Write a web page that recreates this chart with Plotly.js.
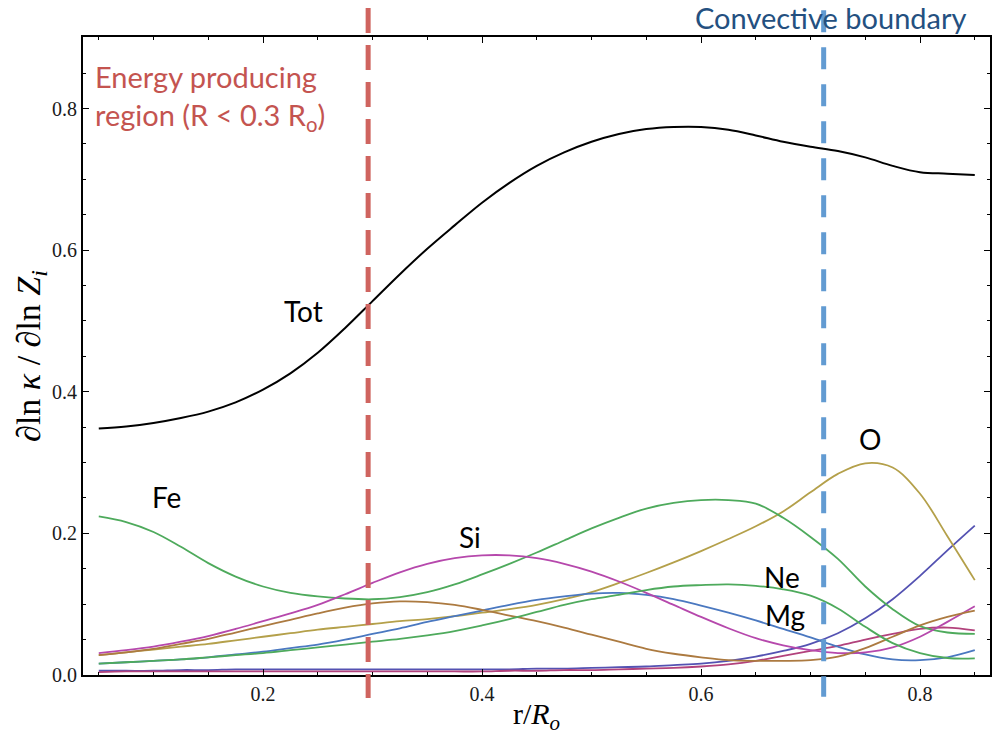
<!DOCTYPE html>
<html>
<head>
<meta charset="utf-8">
<script src="https://cdn.plot.ly/plotly-3.0.1.min.js"></script>
<style>
  html, body { margin: 0; padding: 0; background: #ffffff; }
  #chart { width: 992px; height: 735px; }
</style>
</head>
<body>
<div id="chart"></div>
<script>
// Radial grid, r / R_o
const radius = [0.05, 0.075, 0.10, 0.125, 0.15, 0.175, 0.20, 0.225, 0.25, 0.275,
                0.30, 0.325, 0.35, 0.375, 0.40, 0.425, 0.45, 0.475, 0.50, 0.525,
                0.55, 0.575, 0.60, 0.625, 0.65, 0.675, 0.70, 0.725, 0.75, 0.775,
                0.80, 0.825, 0.85];

// Opacity sensitivity d ln(kappa) / d ln(Z_i) for each element and the total
const sensTot = [0.348, 0.351, 0.356, 0.363, 0.372, 0.385, 0.403, 0.426, 0.455, 0.490,
                 0.528, 0.566, 0.602, 0.635, 0.667, 0.695, 0.719, 0.738, 0.753, 0.764,
                 0.771, 0.774, 0.774, 0.770, 0.762, 0.753, 0.746, 0.740, 0.731, 0.719,
                 0.710, 0.708, 0.706];
const sensFe  = [0.224, 0.216, 0.202, 0.181, 0.158, 0.139, 0.125, 0.116, 0.111, 0.108,
                 0.107, 0.110, 0.117, 0.128, 0.142, 0.157, 0.173, 0.190, 0.207, 0.222,
                 0.235, 0.243, 0.247, 0.247, 0.242, 0.222, 0.195, 0.164, 0.125, 0.093,
                 0.069, 0.060, 0.058];
const sensSi  = [0.031, 0.035, 0.040, 0.047, 0.055, 0.065, 0.076, 0.087, 0.099, 0.114,
                 0.130, 0.145, 0.157, 0.165, 0.169, 0.169, 0.165, 0.157, 0.146, 0.132,
                 0.116, 0.099, 0.082, 0.066, 0.052, 0.042, 0.035, 0.031, 0.032, 0.039,
                 0.054, 0.075, 0.097];
const sensO   = [0.028, 0.032, 0.036, 0.040, 0.044, 0.049, 0.054, 0.059, 0.064, 0.068,
                 0.072, 0.076, 0.079, 0.083, 0.088, 0.093, 0.099, 0.107, 0.117, 0.130,
                 0.144, 0.159, 0.175, 0.192, 0.210, 0.231, 0.258, 0.284, 0.299, 0.293,
                 0.256, 0.196, 0.134];
const sensNe  = [0.016, 0.018, 0.020, 0.022, 0.025, 0.028, 0.031, 0.035, 0.039, 0.043,
                 0.047, 0.051, 0.056, 0.062, 0.070, 0.079, 0.089, 0.099, 0.107, 0.113,
                 0.120, 0.125, 0.127, 0.128, 0.126, 0.121, 0.112, 0.094, 0.068, 0.045,
                 0.031, 0.024, 0.0235];
const sensMg  = [0.016, 0.018, 0.020, 0.022, 0.025, 0.029, 0.033, 0.038, 0.043, 0.050,
                 0.058, 0.066, 0.075, 0.083, 0.091, 0.099, 0.106, 0.111, 0.115, 0.116,
                 0.113, 0.107, 0.098, 0.088, 0.077, 0.065, 0.053, 0.040, 0.029, 0.022,
                 0.021, 0.025, 0.035];
const sensS   = [0.028, 0.032, 0.037, 0.044, 0.051, 0.060, 0.069, 0.078, 0.087, 0.095,
                 0.101, 0.104, 0.103, 0.099, 0.092, 0.084, 0.076, 0.067, 0.057, 0.047,
                 0.037, 0.030, 0.025, 0.021, 0.020, 0.020, 0.021, 0.026, 0.038, 0.054,
                 0.070, 0.082, 0.091];
const sensN   = [0.006, 0.006, 0.006, 0.007, 0.007, 0.008, 0.008, 0.008, 0.008, 0.008,
                 0.008, 0.008, 0.008, 0.008, 0.008, 0.008, 0.009, 0.009, 0.010, 0.011,
                 0.012, 0.014, 0.016, 0.020, 0.026, 0.034, 0.044, 0.059, 0.080, 0.107,
                 0.140, 0.176, 0.211];
const sensC   = [0.004, 0.005, 0.005, 0.005, 0.005, 0.005, 0.005, 0.005, 0.005, 0.005,
                 0.005, 0.005, 0.005, 0.005, 0.005, 0.006, 0.006, 0.007, 0.007, 0.008,
                 0.009, 0.010, 0.012, 0.015, 0.020, 0.027, 0.034, 0.041, 0.050, 0.058,
                 0.065, 0.067, 0.063];

// Region boundaries, in r / R_o
const energyEdge = 0.296;
const convectiveEdge = 0.712;

const tickValsX = [0.2, 0.4, 0.6, 0.8];
const tickValsY = [0.0, 0.2, 0.4, 0.6, 0.8];
const tickTextX = ['0.2', '0.4', '0.6', '0.8'];
const tickTextY = ['0.0', '0.2', '0.4', '0.6', '0.8'];

const series = [
  { name: 'N',   y: sensN,   color: 'rgb(84,82,178)' },
  { name: 'C',   y: sensC,   color: 'rgb(178,66,124)' },
  { name: 'O',   y: sensO,   color: 'rgb(180,160,74)' },
  { name: 'Fe',  y: sensFe,  color: 'rgb(78,170,92)' },
  { name: 'Mg',  y: sensMg,  color: 'rgb(74,120,192)' },
  { name: 'Si',  y: sensSi,  color: 'rgb(182,72,172)' },
  { name: 'S',   y: sensS,   color: 'rgb(172,122,64)' },
  { name: 'Ne',  y: sensNe,  color: 'rgb(78,170,92)' },
  { name: 'Tot', y: sensTot, color: '#000000' }
];

const traces = series.map(s => ({
  type: 'scatter',
  mode: 'lines',
  name: s.name,
  x: radius,
  y: s.y,
  line: { color: s.color, width: s.name === 'Tot' ? 2 : 1.8, shape: 'spline', smoothing: 1 },
  hoverinfo: 'x+y+name'
}));

const serif = '"Liberation Serif", "Times New Roman", serif';
const sans = 'Lato, "Open Sans", sans-serif';
const labelFont = { family: sans, size: 28, color: '#000000' };

function axisStyle(extra) {
  return Object.assign({
    showline: true,
    linecolor: '#000000',
    linewidth: 2,
    mirror: 'allticks',
    ticks: 'inside',
    ticklen: 6,
    tickwidth: 1,
    tickcolor: '#000000',
    tickfont: { family: serif, size: 20, color: '#1a1a1a' },
    showgrid: false,
    zeroline: false,
    minor: { dtick: 0.05, ticks: 'inside', ticklen: 3, tickwidth: 1, tickcolor: '#000000' }
  }, extra);
}

const layout = {
  width: 992,
  height: 735,
  margin: { l: 83, r: 2, t: 37, b: 60 },
  font: { family: serif, size: 20, color: '#1a1a1a' },
  paper_bgcolor: '#ffffff',
  plot_bgcolor: '#ffffff',
  showlegend: false,
  xaxis: axisStyle({
    range: [0.0356, 0.8639],
    tickmode: 'array',
    tickvals: tickValsX,
    ticktext: tickTextX,
    title: {
      text: 'r/<i>R<sub>o</sub></i>',
      font: { family: serif, size: 30, color: '#000000' },
      standoff: 2
    }
  }),
  yaxis: axisStyle({
    range: [0, 0.901],
    tickmode: 'array',
    tickvals: tickValsY,
    ticktext: tickTextY,
    title: {
      text: '∂ln <i>κ</i> / ∂ln <i>Z<sub>i</sub></i>',
      font: { family: serif, size: 34, color: '#000000' },
      standoff: 0
    }
  }),
  shapes: [
    {
      type: 'line', layer: 'above',
      xref: 'x', yref: 'paper',
      x0: energyEdge, x1: energyEdge, y0: 1.0455, y1: -0.036,
      line: { color: 'rgb(207,100,95)', width: 5, dash: '25px,12px' }
    },
    {
      type: 'line', layer: 'above',
      xref: 'x', yref: 'paper',
      x0: convectiveEdge, x1: convectiveEdge, y0: 1.042, y1: -0.034,
      line: { color: 'rgb(98,155,210)', width: 5, dash: '22px,15px' }
    }
  ],
  annotations: [
    {
      xref: 'paper', yref: 'paper', x: 0.0105, y: 0.968,
      xanchor: 'left', yanchor: 'top', align: 'left', showarrow: false,
      text: 'Energy producing<br>region (R &lt; 0.3 R<sub>o</sub>)',
      font: { family: sans, size: 29, color: 'rgb(196,84,80)' }
    },
    {
      xref: 'paper', yref: 'paper', x: 0.825, y: 1.031,
      xanchor: 'center', yanchor: 'middle', showarrow: false,
      text: 'Convective boundary',
      font: { family: sans, size: 29, color: 'rgb(36,80,128)' }
    },
    { x: 0.2374, y: 0.514, text: 'Tot', showarrow: false, font: labelFont },
    { x: 0.1123, y: 0.2514, text: 'Fe', showarrow: false, font: labelFont },
    { x: 0.389, y: 0.195, text: 'Si', showarrow: false, font: labelFont },
    { x: 0.754, y: 0.333, text: 'O', showarrow: false, font: labelFont },
    { x: 0.674, y: 0.138, text: 'Ne', showarrow: false, font: labelFont },
    { x: 0.677, y: 0.0847, text: 'Mg', showarrow: false, font: labelFont }
  ]
};

Plotly.newPlot('chart', traces, layout, { displayModeBar: false, staticPlot: true });
</script>
</body>
</html>
